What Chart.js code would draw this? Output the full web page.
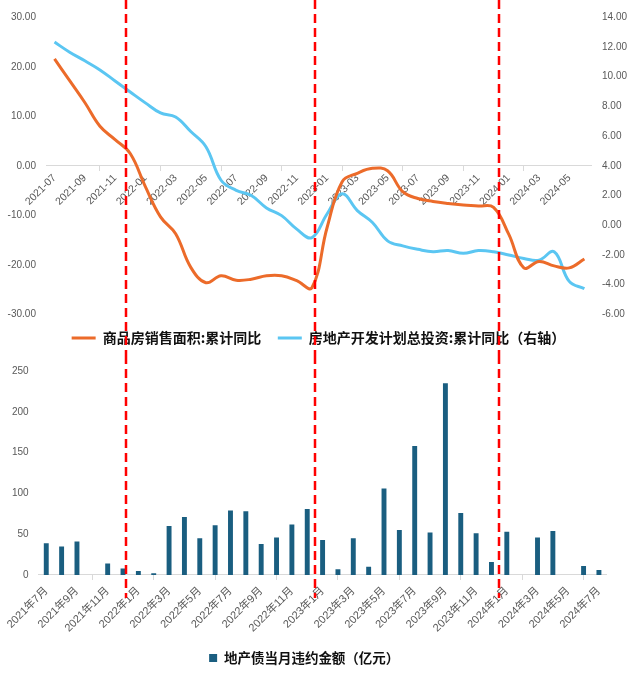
<!DOCTYPE html>
<html>
<head>
<meta charset="utf-8">
<script src="https://cdn.jsdelivr.net/npm/chart.js@4.4.1/dist/chart.umd.min.js"></script>
<style>
  html, body { margin: 0; padding: 0; background: #fff; }
  #wrap { position: relative; width: 640px; height: 679px; }
  .box { position: absolute; left: 0; width: 640px; }
  #topBox { top: 0; height: 355px; }
  #botBox { top: 355px; height: 324px; }
</style>
</head>
<body>
<div id="wrap">
  <div class="box" id="topBox"><canvas id="lineChart"></canvas></div>
  <div class="box" id="botBox"><canvas id="barChart"></canvas></div>
</div>
<script>
// 上图：商品房销售面积 / 房地产开发计划总投资（累计同比，%）
var lineMonths = [
    "2021-07", "2021-08", "2021-09", "2021-10", "2021-11", "2021-12",
    "2022-01", "2022-02", "2022-03", "2022-04", "2022-05", "2022-06",
    "2022-07", "2022-08", "2022-09", "2022-10", "2022-11", "2022-12",
    "2023-01", "2023-02", "2023-03", "2023-04", "2023-05", "2023-06",
    "2023-07", "2023-08", "2023-09", "2023-10", "2023-11", "2023-12",
    "2024-01", "2024-02", "2024-03", "2024-04", "2024-05", "2024-06"];
var salesArea = [
    21.6, 17.2, 12.8, 8.0, 5.3, 2.5,
    -4.2, -10.3, -13.7, -20.5, -23.6, -22.2,
    -23.1, -22.9, -22.2, -22.2, -23.2, -24.6,
    -12.5, -3.2, -1.5, -0.5, -1.0, -5.2,
    -6.6, -7.2, -7.6, -7.9, -8.1, -8.4,
    -13.8, -20.6, -19.3, -20.2, -20.6, -18.8];
var investPlan = [
    12.33, 11.65, 11.07, 10.46, 9.71, 8.97,
    8.24, 7.56, 7.29, 6.31, 5.29, 3.03,
    2.35, 2.0, 1.17, 0.65, -0.26, -0.83,
    0.76, 2.12, 0.99, 0.19, -1.05, -1.39,
    -1.62, -1.78, -1.7, -1.89, -1.7, -1.78,
    -2.0, -2.23, -2.35, -1.78, -3.78, -4.27];

// 下图：地产债当月违约金额（亿元）
var barMonths = [
    "2021年7月", "2021年8月", "2021年9月", "2021年10月", "2021年11月", "2021年12月",
    "2022年1月", "2022年2月", "2022年3月", "2022年4月", "2022年5月", "2022年6月",
    "2022年7月", "2022年8月", "2022年9月", "2022年10月", "2022年11月", "2022年12月",
    "2023年1月", "2023年2月", "2023年3月", "2023年4月", "2023年5月", "2023年6月",
    "2023年7月", "2023年8月", "2023年9月", "2023年10月", "2023年11月", "2023年12月",
    "2024年1月", "2024年2月", "2024年3月", "2024年4月", "2024年5月", "2024年6月",
    "2024年7月"];
var defaultAmt = [
    39, 35, 41, 0, 14, 8,
    5, 2, 60, 71, 45, 61,
    79, 78, 38, 46, 62, 81,
    43, 7, 45, 10, 106, 55,
    158, 52, 235, 76, 51, 16,
    53, 0, 46, 54, 0, 11,
    6];

// 红色虚线（年初分界），以各图的类目序号计
var redMarksTop = [4.72, 17.2, 29.35];
var redMarksBottom = [5.2, 17.5, 29.5];

var tickFont = "'Liberation Sans', 'Noto Sans CJK SC', sans-serif";
var cjkFont = "'Noto Sans CJK SC', sans-serif";
var axisGrey = '#d9d9d9';
var labelGrey = '#595959';

function everyOther(ctx) {
    return ctx.index % 2 === 0 ? axisGrey : 'rgba(0,0,0,0)';
}

// rotated labels shouldn't shrink the plot area
function noSidePadding(scale) {
    scale.paddingLeft = 0;
    scale.paddingRight = 0;
}

function redLines(marks, below) {
    return {
        id: 'redLines',
        afterDraw: function (chart) {
            var ctx = chart.ctx;
            var x = chart.scales.x;
            var yEnd = below === null ? chart.height : chart.chartArea.bottom + below;
            ctx.save();
            ctx.strokeStyle = '#ff0000';
            ctx.lineWidth = 2.5;
            ctx.setLineDash([9, 5]);
            marks.forEach(function (m) {
                var px = Math.round(x.getPixelForValue(m));
                ctx.beginPath();
                ctx.moveTo(px, 0);
                ctx.lineTo(px, yEnd);
                ctx.stroke();
            });
            ctx.restore();
        }
    };
}

var lineChart = new Chart(document.getElementById('lineChart'), {
    type: 'line',
    data: {
        labels: lineMonths,
        datasets: [{
            label: '商品房销售面积:累计同比',
            data: salesArea,
            borderColor: '#ec6b2a',
            backgroundColor: '#ec6b2a',
            borderWidth: 3,
            pointRadius: 0,
            tension: 0.4,
            fill: false,
            yAxisID: 'y'
        },
        {
            label: '房地产开发计划总投资:累计同比（右轴）',
            data: investPlan,
            borderColor: '#5bc6f2',
            backgroundColor: '#5bc6f2',
            borderWidth: 3,
            pointRadius: 0,
            tension: 0.4,
            fill: false,
            yAxisID: 'y1'
        }]
    },
    options: {
        responsive: true,
        maintainAspectRatio: false,
        animation: false,
        layout: { padding: { top: 17.3, left: 0, right: 3, bottom: 0 } },
        plugins: {
            legend: {
                position: 'bottom',
                labels: {
                    usePointStyle: true,
                    pointStyle: 'line',
                    pointStyleWidth: 24,
                    color: '#111',
                    padding: 16.6,
                    font: { family: cjkFont, size: 14, weight: 'bold' }
                }
            },
            tooltip: { enabled: false }
        },
        scales: {
            x: {
                position: { y: 0 },
                offset: true,
                afterFit: noSidePadding,
                grid: { offset: true, drawOnChartArea: false, tickLength: 5, tickColor: everyOther },
                border: { color: axisGrey },
                ticks: {
                    autoSkip: false,
                    minRotation: 45,
                    maxRotation: 45,
                    padding: 1,
                    color: labelGrey,
                    font: { family: tickFont, size: 10.5 },
                    callback: function (v, i) { return i % 2 ? null : this.getLabelForValue(v); }
                }
            },
            y: {
                position: 'left',
                min: -30,
                max: 30,
                grid: { display: false, drawTicks: true, tickLength: 3.4 },
                border: { display: false },
                ticks: {
                    stepSize: 10,
                    padding: 7.6,
                    color: labelGrey,
                    font: { family: tickFont, size: 10 },
                    callback: function (v) { return v.toFixed(2); }
                }
            },
            y1: {
                position: 'right',
                min: -6,
                max: 14,
                grid: { display: false, drawTicks: false },
                border: { display: false },
                ticks: {
                    stepSize: 2,
                    padding: 10,
                    color: labelGrey,
                    font: { family: tickFont, size: 10 },
                    callback: function (v) { return v.toFixed(2); }
                }
            }
        }
    },
    plugins: [redLines(redMarksTop, null)]
});

var barChart = new Chart(document.getElementById('barChart'), {
    type: 'bar',
    data: {
        labels: barMonths,
        datasets: [{
            label: '地产债当月违约金额（亿元）',
            data: defaultAmt,
            backgroundColor: '#1a5e80',
            categoryPercentage: 1,
            barPercentage: 0.32
        }]
    },
    options: {
        responsive: true,
        maintainAspectRatio: false,
        animation: false,
        layout: { padding: { top: 9.6, left: 1.9, right: 33.4, bottom: 4.25 } },
        plugins: {
            legend: {
                position: 'bottom',
                labels: {
                    boxWidth: 8,
                    boxHeight: 8,
                    color: '#111',
                    padding: 12,
                    font: { family: cjkFont, size: 13.5, weight: 'bold' }
                }
            },
            tooltip: { enabled: false }
        },
        scales: {
            x: {
                afterFit: noSidePadding,
                grid: { offset: true, drawOnChartArea: false, tickLength: 5, tickColor: everyOther },
                border: { color: axisGrey },
                ticks: {
                    autoSkip: false,
                    minRotation: 45,
                    maxRotation: 45,
                    padding: 4.5,
                    color: labelGrey,
                    font: { family: tickFont, size: 11 },
                    callback: function (v, i) { return i % 2 ? null : this.getLabelForValue(v); }
                }
            },
            y: {
                min: 0,
                max: 250,
                grid: { display: false, drawTicks: false },
                border: { display: false },
                ticks: {
                    stepSize: 50,
                    padding: 10,
                    color: labelGrey,
                    font: { family: tickFont, size: 10 }
                }
            }
        }
    },
    plugins: [redLines(redMarksBottom, 23)]
});
</script>
</body>
</html>
